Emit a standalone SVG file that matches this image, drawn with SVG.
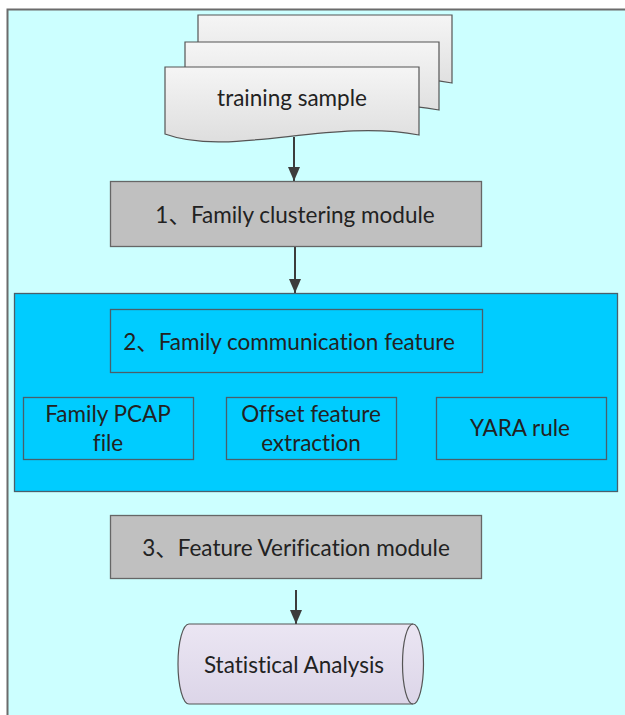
<svg xmlns="http://www.w3.org/2000/svg" width="625" height="715" viewBox="0 0 625 715">
  <style>
    text { font-family: Lato, "Noto Sans CJK SC", sans-serif; font-size: 22.5px; fill: #222; text-anchor: middle; dominant-baseline: central; font-variant-ligatures: none; font-feature-settings: "liga" 0, "clig" 0; }
    .doc { fill: url(#docFill); stroke: #555; stroke-width: 1.2; }
    .step { fill: #c0c0c0; stroke: #666; stroke-width: 1.3; }
    .blue { fill: #00ccff; stroke: #4a5f6a; stroke-width: 1.3; }
    .link { stroke: #3c3c3c; stroke-width: 2; fill: none; marker-end: url(#arrow); }
  </style>
  <defs>
    <linearGradient id="docFill" x1="0" y1="0" x2="0" y2="1">
      <stop offset="0" stop-color="#f5f5f5"/>
      <stop offset="1" stop-color="#dedede"/>
    </linearGradient>
    <linearGradient id="cylFill" x1="0" y1="0" x2="0" y2="1">
      <stop offset="0" stop-color="#ebe6f3"/>
      <stop offset="1" stop-color="#dcd5e8"/>
    </linearGradient>
    <!-- filled triangular arrowhead, tip at the line end -->
    <marker id="arrow" viewBox="0 0 14 12" refX="14" refY="6" markerWidth="14" markerHeight="12" markerUnits="userSpaceOnUse" orient="auto">
      <path d="M0,0 L14,6 L0,12 Z" fill="#3c3c3c"/>
    </marker>
    <path id="docShape" d="M165,67 H419 V135 C330,118 230,158 165,134 Z"/>
  </defs>

  <!-- page background and panel -->
  <rect x="0" y="0" width="625" height="715" fill="#ffffff"/>
  <rect x="7.5" y="9.5" width="640" height="720" fill="#ccffff" stroke="#6b6b6b" stroke-width="2"/>

  <!-- connectors -->
  <g id="connectors">
    <line class="link" x1="294" y1="137" x2="294" y2="181"/>
    <line class="link" x1="295" y1="247" x2="295" y2="293"/>
    <line class="link" x1="296" y1="590" x2="296" y2="624"/>
  </g>

  <g id="training-sample">
    <use href="#docShape" class="doc" transform="translate(33,-52)"/>
    <use href="#docShape" class="doc" transform="translate(20,-25)"/>
    <use href="#docShape" class="doc"/>
    <text x="292" y="97">training sample</text>
  </g>

  <g id="family-clustering">
    <rect class="step" x="110.5" y="181.5" width="371" height="65"/>
    <text x="295" y="214">1、Family clustering module</text>
  </g>

  <g id="communication-feature-group">
    <rect class="blue" x="14.5" y="293.5" width="603" height="198"/>
  </g>

  <g id="family-communication-feature">
    <rect class="blue" x="110.5" y="309.5" width="372" height="63"/>
    <text x="289" y="341">2、Family communication feature</text>
  </g>

  <g id="family-pcap-file">
    <rect class="blue" x="23.5" y="397.5" width="170" height="62"/>
    <text x="108" y="413">Family PCAP</text>
    <text x="108" y="442">file</text>
  </g>

  <g id="offset-feature-extraction">
    <rect class="blue" x="226.5" y="397.5" width="170" height="62"/>
    <text x="311" y="413">Offset feature</text>
    <text x="311" y="442">extraction</text>
  </g>

  <g id="yara-rule">
    <rect class="blue" x="436.5" y="397.5" width="170" height="62"/>
    <text x="520" y="427">YARA rule</text>
  </g>

  <g id="feature-verification">
    <rect class="step" x="110.5" y="515.5" width="371" height="63"/>
    <text x="296" y="547">3、Feature Verification module</text>
  </g>

  <g id="statistical-analysis">
    <path d="M189,624 H413 A10.5,40 0 0 1 413,704 H189 A11,40 0 0 1 189,624 Z" fill="url(#cylFill)" stroke="#555" stroke-width="1.2"/>
    <path d="M413,624 A10.5,40 0 0 0 413,704" fill="none" stroke="#555" stroke-width="1.2"/>
    <text x="294" y="664">Statistical Analysis</text>
  </g>
</svg>
